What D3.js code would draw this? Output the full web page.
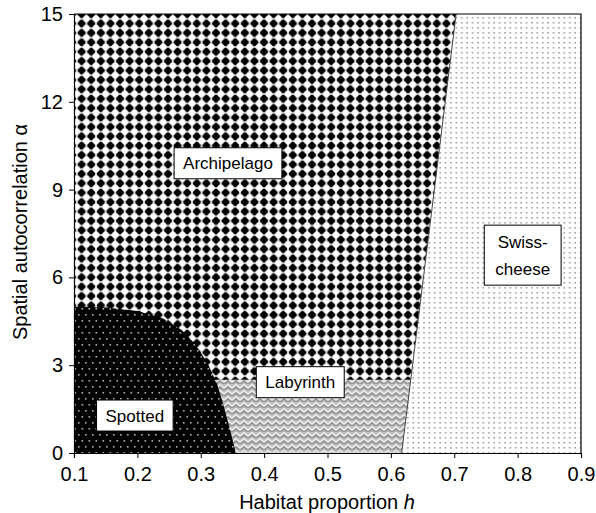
<!DOCTYPE html>
<html>
<head>
<meta charset="utf-8">
<script src="https://cdn.jsdelivr.net/npm/d3@7"></script>
<style>
  body { margin: 0; background: #fff; }
  svg { font-family: Arial, "Liberation Sans", sans-serif; }
</style>
</head>
<body>
<svg id="chart"></svg>
<script>
const w = 596;
const h = 513;

// ticks
const xTicks = [0.1, 0.2, 0.3, 0.4, 0.5, 0.6, 0.7, 0.8, 0.9];
const yTicks = [0, 3, 6, 9, 12, 15];

// regime boundaries (habitat proportion h, autocorrelation alpha)
const spottedEdge = [
  [0.1, 5.0], [0.15, 4.97], [0.2, 4.85], [0.24, 4.6], [0.27, 4.2],
  [0.29, 3.75], [0.31, 3.1], [0.325, 2.4], [0.335, 1.7], [0.345, 0.9],
  [0.352, 0.3], [0.355, 0]
];
const swissEdge = [[0.617, 0], [0.703, 15]];
const labyrinthTop = 2.5;

// region labels
const labels = [
  { lines: ["Archipelago"], h: 0.343, a: 9.9 },
  { lines: ["Labyrinth"], h: 0.457, a: 2.42 },
  { lines: ["Spotted"], h: 0.196, a: 1.28 },
  { lines: ["Swiss-", "cheese"], h: 0.808, a: 6.76 }
];

const svg = d3.select("#chart").attr("width", w).attr("height", h);

const xScale = d3.scaleLinear().domain([0.1, 0.9]).range([74, 581]);
const yScale = d3.scaleLinear().domain([0, 15]).range([453, 14]);

// patterns
const defs = svg.append("defs");

const arch = defs.append("pattern").attr("id", "arch")
  .attr("patternUnits", "userSpaceOnUse").attr("width", 9.6).attr("height", 9.4);
arch.append("rect").attr("width", 9.6).attr("height", 9.4).attr("fill", "#fff");
arch.append("circle").attr("cx", 4.8).attr("cy", 4.7).attr("r", 3.2).attr("fill", "#000");
arch.append("rect").attr("x", 3.4).attr("y", 0.7).attr("width", 2.8).attr("height", 8).attr("fill", "#000");
arch.append("rect").attr("x", 0.8).attr("y", 3.3).attr("width", 8).attr("height", 2.8).attr("fill", "#000");

const spot = defs.append("pattern").attr("id", "spot")
  .attr("patternUnits", "userSpaceOnUse").attr("width", 7).attr("height", 12);
spot.append("rect").attr("width", 7).attr("height", 12).attr("fill", "#000");
spot.append("rect").attr("x", 1).attr("y", 2).attr("width", 1.6).attr("height", 1.6).attr("fill", "#b0b0b0");
spot.append("rect").attr("x", 4.5).attr("y", 8).attr("width", 1.6).attr("height", 1.6).attr("fill", "#b0b0b0");

const lab = defs.append("pattern").attr("id", "lab")
  .attr("patternUnits", "userSpaceOnUse").attr("width", 8).attr("height", 6);
lab.append("rect").attr("width", 8).attr("height", 6).attr("fill", "#bcbcbc");
lab.append("path").attr("d", "M0,4 L4,0.5 L8,4").attr("fill", "none")
  .attr("stroke", "#f0f0f0").attr("stroke-width", 1.4);
lab.append("path").attr("d", "M0,6.5 L4,3 L8,6.5").attr("fill", "none")
  .attr("stroke", "#8c8c8c").attr("stroke-width", 1.2);

const swiss = defs.append("pattern").attr("id", "swiss")
  .attr("patternUnits", "userSpaceOnUse").attr("width", 5.4).attr("height", 5);
swiss.append("rect").attr("width", 5.4).attr("height", 5).attr("fill", "#fff");
swiss.append("rect").attr("x", 2).attr("y", 2).attr("width", 1.6).attr("height", 1.6).attr("fill", "#a0a0a0");

const line = d3.line().x((d) => xScale(d[0])).y((d) => yScale(d[1]));

const swissAt = (a) =>
  swissEdge[0][0] + (swissEdge[1][0] - swissEdge[0][0]) * (a - swissEdge[0][1]) / (swissEdge[1][1] - swissEdge[0][1]);

// archipelago: everything left of the swiss-cheese edge
svg.append("path")
  .attr("d", line([[0.1, 0], [0.1, 15], swissEdge[1], swissEdge[0]]) + "Z")
  .attr("fill", "url(#arch)");

// swiss-cheese
svg.append("path")
  .attr("d", line([swissEdge[0], swissEdge[1], [0.9, 15], [0.9, 0]]) + "Z")
  .attr("fill", "url(#swiss)");

// labyrinth
svg.append("path")
  .attr("d", line([[0.3, 0], [0.3, labyrinthTop], [swissAt(labyrinthTop), labyrinthTop], swissEdge[0]]) + "Z")
  .attr("fill", "url(#lab)");

// spotted
svg.append("path")
  .attr("d", line([[0.1, 0]].concat(spottedEdge)) + "Z")
  .attr("fill", "url(#spot)");

// swiss edge line
svg.append("path")
  .attr("d", line(swissEdge))
  .attr("stroke", "#444").attr("stroke-width", 1).attr("fill", "none");

// frame (top and right)
svg.append("path")
  .attr("d", line([[0.1, 15], [0.9, 15], [0.9, 0]]))
  .attr("stroke", "#000").attr("stroke-width", 1.2).attr("fill", "none");

// axes
const xAxis = d3.axisBottom(xScale).tickValues(xTicks).tickSize(5).tickPadding(9)
  .tickFormat(d3.format(".1f"));
const gx = svg.append("g").attr("transform", "translate(0," + yScale(0) + ")").call(xAxis);

const yAxis = d3.axisLeft(yScale).tickValues(yTicks).tickSize(5).tickPadding(6);
const gy = svg.append("g").attr("transform", "translate(" + xScale(0.1) + ",0)").call(yAxis);

[gx, gy].forEach((g) => {
  g.select(".domain").attr("stroke", "#000").attr("stroke-width", 1.2);
  g.selectAll(".tick line").attr("stroke", "#000");
  g.selectAll(".tick text").attr("fill", "#000").style("font-size", "20px")
    .style("font-family", "Arial, 'Liberation Sans', sans-serif");
});

// axis titles
const xt = svg.append("text")
  .attr("x", 327).attr("y", 509)
  .attr("text-anchor", "middle")
  .style("font-size", "20px");
xt.append("tspan").text("Habitat proportion ");
xt.append("tspan").style("font-style", "italic").text("h");

svg.append("text")
  .attr("transform", "translate(27,232) rotate(-90)")
  .attr("text-anchor", "middle")
  .style("font-size", "20px")
  .text("Spatial autocorrelation α");

// region labels with boxes
labels.forEach((lb) => {
  const cx = xScale(lb.h);
  const cy = yScale(lb.a);
  const g = svg.append("g");
  const lineH = 27;
  const t = g.append("text")
    .attr("text-anchor", "middle")
    .style("font-size", "17px");
  lb.lines.forEach((s, i) => {
    t.append("tspan")
      .attr("x", cx)
      .attr("y", cy + 6 + (i - (lb.lines.length - 1) / 2) * lineH)
      .text(s);
  });
  const bb = t.node().getBBox();
  const padX = lb.lines.length === 1 ? 9 : 11;
  const boxH = lb.lines.length === 1 ? 31 : 60;
  g.insert("rect", "text")
    .attr("x", cx - bb.width / 2 - padX)
    .attr("y", cy - boxH / 2)
    .attr("width", bb.width + padX * 2)
    .attr("height", boxH)
    .attr("fill", "#fff")
    .attr("stroke", "#000")
    .attr("stroke-width", 1);
});
</script>
</body>
</html>
